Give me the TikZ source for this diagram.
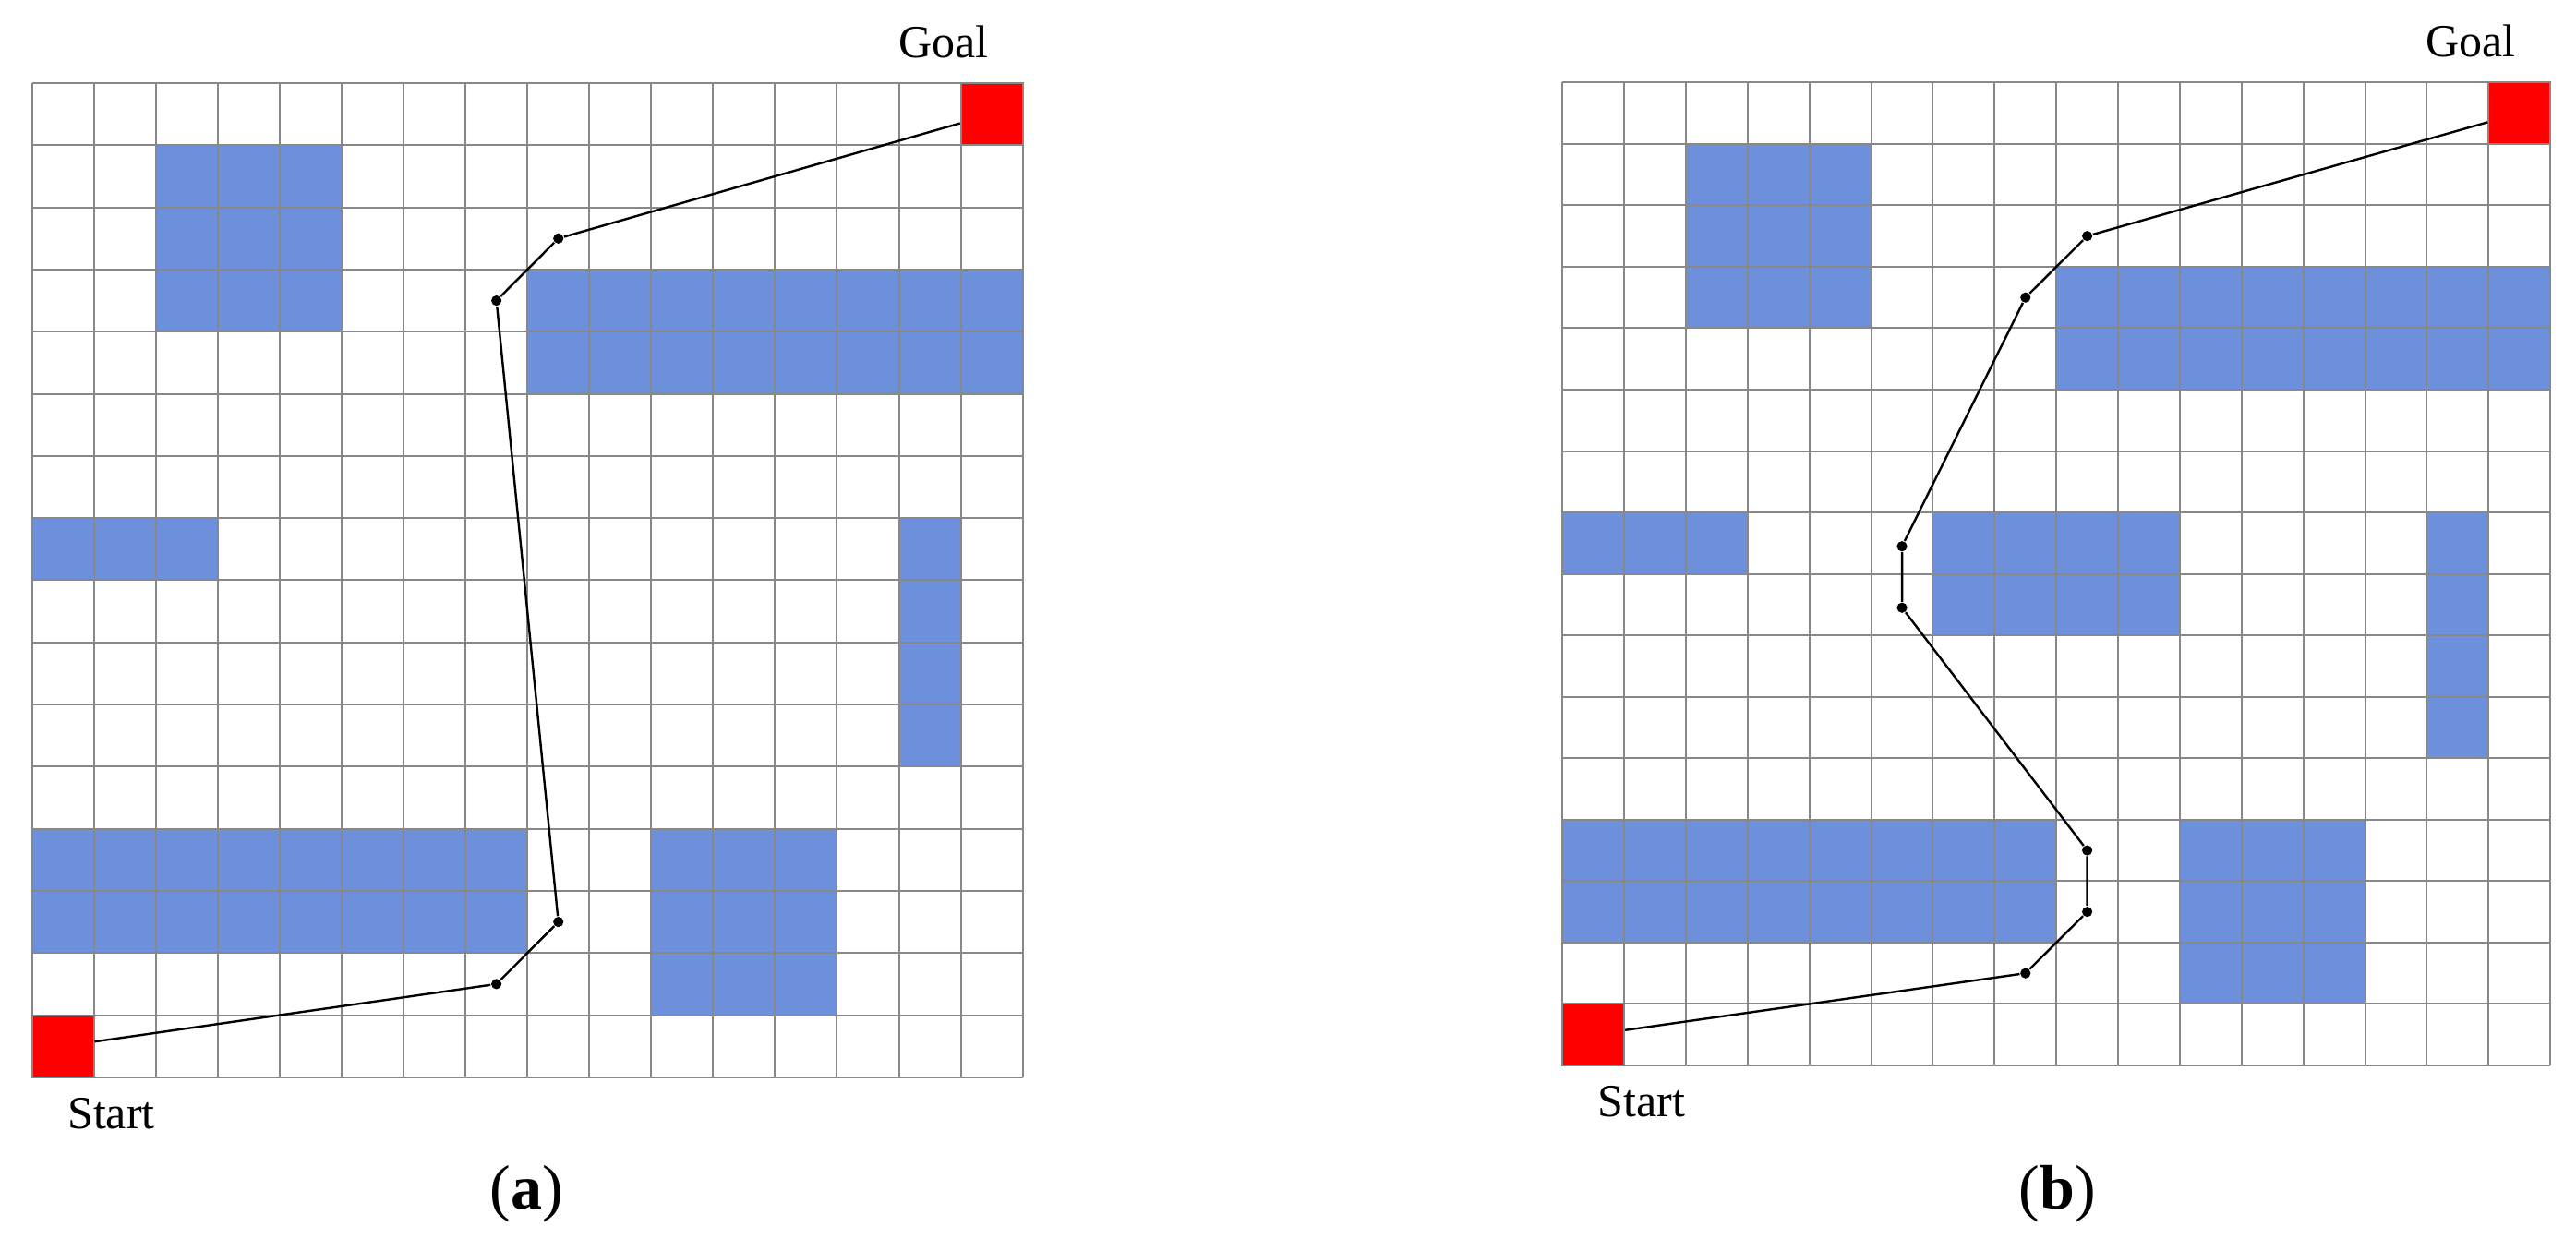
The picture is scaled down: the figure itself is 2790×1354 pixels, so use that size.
\documentclass[tikz,border=0pt]{standalone}
\usepackage{fontspec}
\setmainfont{Liberation Serif}
\definecolor{obstblue}{RGB}{108,144,219}
\definecolor{gridgray}{RGB}{136,136,136}
\definecolor{goalred}{RGB}{255,0,0}
\begin{document}
\begin{tikzpicture}[x=0.25pt,y=-0.25pt,
  gridline/.style={draw=gridgray,line width=0.5pt},
  obst/.style={fill=obstblue},
  endcell/.style={rectangle,fill=goalred,draw=gridgray,line width=0.5pt,minimum size=16.7pt,inner sep=0pt},
  waypt/.style={circle,fill=black,inner sep=0pt,minimum size=2.8pt},
  pathline/.style={draw=black,line width=0.6pt},
  lbl/.style={font=\fontsize{12.5}{15}\selectfont,anchor=base},
  captext/.style={font=\fontsize{17}{20}\selectfont,anchor=base}]
\useasboundingbox[fill=white] (0,0) rectangle (2790,1354);

% ---------- (a) ----------
\begin{scope}[shift={(34.7,90)},x=16.765pt,y=-16.825pt]
  \fill[obst] (2,1) rectangle (5,4);
  \fill[obst] (8,3) rectangle (16,5);
  \fill[obst] (0,7) rectangle (3,8);
  \fill[obst] (14,7) rectangle (15,11);
  \fill[obst] (0,12) rectangle (8,14);
  \fill[obst] (10,12) rectangle (13,15);
  \foreach \i in {0,...,16} {
    \draw[gridline] (\i,0) -- (\i,16);
    \draw[gridline] (0,\i) -- (16,\i);
  }
  \node[waypt] (a1) at (7.5,14.5) {};
  \node[waypt] (a2) at (8.5,13.5) {};
  \node[waypt] (a3) at (7.5,3.5) {};
  \node[waypt] (a4) at (8.5,2.5) {};
  \node[endcell] (sa) at (0.5,15.5) {};
  \node[endcell] (ga) at (15.5,0.5) {};
  \draw[pathline] (sa) -- (a1) -- (a2) -- (a3) -- (a4) -- (ga);
\end{scope}

% ---------- (b) ----------
\begin{scope}[shift={(1692.3,89.3)},x=16.715pt,y=-16.635pt]
  \fill[obst] (2,1) rectangle (5,4);
  \fill[obst] (8,3) rectangle (16,5);
  \fill[obst] (0,7) rectangle (3,8);
  \fill[obst] (6,7) rectangle (10,9);
  \fill[obst] (14,7) rectangle (15,11);
  \fill[obst] (0,12) rectangle (8,14);
  \fill[obst] (10,12) rectangle (13,15);
  \foreach \i in {0,...,16} {
    \draw[gridline] (\i,0) -- (\i,16);
    \draw[gridline] (0,\i) -- (16,\i);
  }
  \node[waypt] (b1) at (7.5,14.5) {};
  \node[waypt] (b2) at (8.5,13.5) {};
  \node[waypt] (b3) at (8.5,12.5) {};
  \node[waypt] (b4) at (5.5,8.55) {};
  \node[waypt] (b5) at (5.5,7.55) {};
  \node[waypt] (b6) at (7.5,3.5) {};
  \node[waypt] (b7) at (8.5,2.5) {};
  \node[endcell] (sb) at (0.5,15.5) {};
  \node[endcell] (gb) at (15.5,0.5) {};
  \draw[pathline] (sb) -- (b1) -- (b2) -- (b3) -- (b4) -- (b5) -- (b6) -- (b7) -- (gb);
\end{scope}

% ---------- labels ----------
\node[lbl] (goala) at (1021.7,62) {Goal};
\node[lbl] (starta) at (120.5,1222.7) {Start};
\node[lbl] (goalb) at (2676,61.7) {Goal};
\node[lbl] (startb) at (1778,1209.3) {Start};
\node[captext] (capa) at (570.5,1309) {(\textbf{a})};
\node[captext] (capb) at (2228.3,1309) {(\textbf{b})};
\end{tikzpicture}
\end{document}
